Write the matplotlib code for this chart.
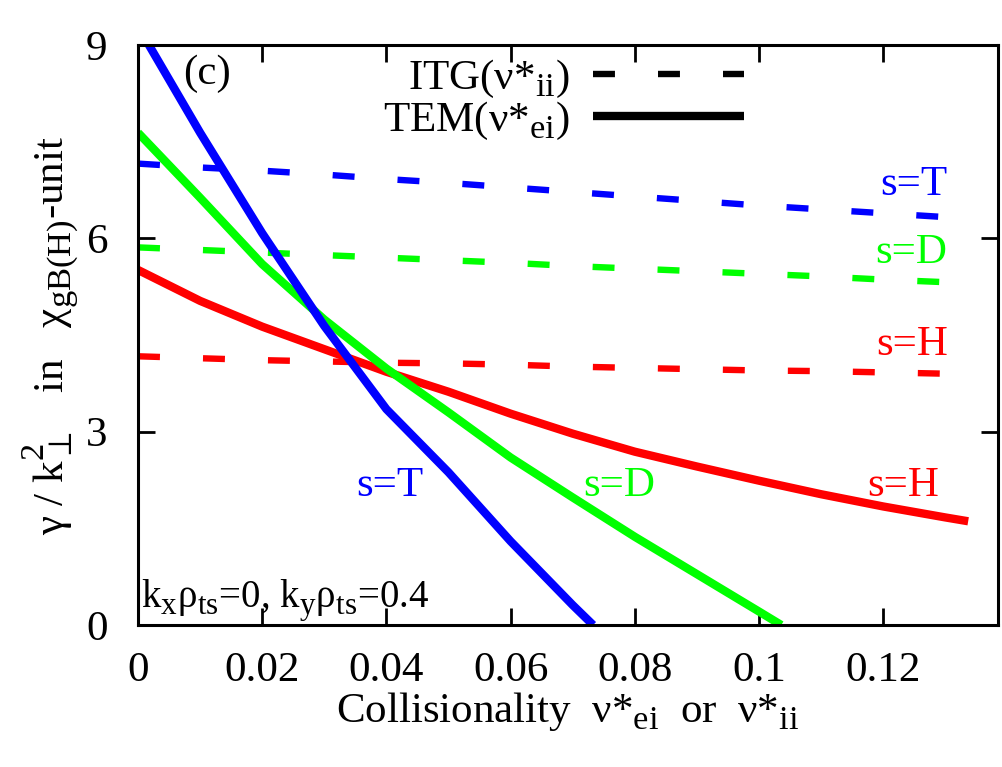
import numpy as np
import matplotlib
matplotlib.use("Agg")
import matplotlib.pyplot as plt
from matplotlib.lines import Line2D
import matplotlib._mathtext as _mt

plt.rcParams['font.family'] = ['Liberation Serif', 'DejaVu Serif']
plt.rcParams['mathtext.fontset'] = 'custom'
plt.rcParams['mathtext.rm'] = 'Liberation Serif'
plt.rcParams['mathtext.it'] = 'Liberation Serif'
plt.rcParams['mathtext.default'] = 'regular'
plt.rcParams['lines.scale_dashes'] = False
# larger, lower subscripts as in the reference
_mt.SHRINK_FACTOR = 0.8
_mt.FontConstantsBase.sub1 = 0.4
_mt.FontConstantsBase.sub2 = 0.5

# ---- data ----
nu_tem_T = [0.0, 0.01, 0.02, 0.03, 0.04, 0.05, 0.06, 0.07, 0.0733]
tem_T = [9.29, 7.64, 6.08, 4.64, 3.35, 2.37, 1.30, 0.31, 0.0]

nu_tem_D = [0.0, 0.01, 0.02, 0.03, 0.04, 0.05, 0.06, 0.07, 0.08, 0.09, 0.10, 0.1036]
tem_D = [7.64, 6.63, 5.60, 4.74, 3.98, 3.30, 2.60, 1.98, 1.37, 0.79, 0.21, 0.0]

nu_tem_H = [0.0, 0.01, 0.02, 0.03, 0.04, 0.05, 0.06, 0.07, 0.08, 0.09, 0.10, 0.11, 0.12, 0.13, 0.1337]
tem_H = [5.51, 5.03, 4.63, 4.28, 3.93, 3.62, 3.28, 2.97, 2.69, 2.46, 2.24, 2.03, 1.84, 1.67, 1.61]

nu_itg = [0.0, 0.01, 0.02, 0.03, 0.04, 0.05, 0.06, 0.07, 0.08, 0.09, 0.10, 0.11, 0.12, 0.13, 0.1337]
itg_T = [7.16, 7.10, 7.05, 6.99, 6.92, 6.86, 6.79, 6.72, 6.65, 6.58, 6.51, 6.45, 6.39, 6.33, 6.31]
itg_D = [5.86, 5.82, 5.78, 5.74, 5.70, 5.66, 5.62, 5.57, 5.53, 5.49, 5.45, 5.41, 5.36, 5.32, 5.31]
itg_H = [4.17, 4.14, 4.11, 4.09, 4.07, 4.06, 4.04, 4.01, 3.99, 3.97, 3.95, 3.94, 3.92, 3.90, 3.89]

xticks = [0, 0.02, 0.04, 0.06, 0.08, 0.1, 0.12]
xticklabels = ['0', '0.02', '0.04', '0.06', '0.08', '0.1', '0.12']
yticks = [0, 3, 6, 9]

BLUE, GREEN, RED = '#0000ff', '#00ff00', '#ff0000'
DASH = (15.8, 31.0)

fig = plt.figure(figsize=(10.03, 7.67), dpi=100)
ax = fig.add_axes([0.1376, 0.1851, 0.8574, 0.7562])

lw_s, lw_d = 6.0, 4.6
ax.plot(nu_itg, itg_T, color=BLUE, lw=lw_d, dashes=DASH, dash_capstyle='butt')
ax.plot(nu_itg, itg_D, color=GREEN, lw=lw_d, dashes=DASH, dash_capstyle='butt')
ax.plot(nu_itg, itg_H, color=RED, lw=lw_d, dashes=DASH, dash_capstyle='butt')
ax.plot(nu_tem_H, tem_H, color=RED, lw=lw_s, solid_capstyle='butt')
ax.plot(nu_tem_D, tem_D, color=GREEN, lw=lw_s, solid_capstyle='butt')
ax.plot(nu_tem_T, tem_T, color=BLUE, lw=lw_s, solid_capstyle='butt')

ax.set_xlim(0, 0.1385)
ax.set_ylim(0, 9)
ax.set_xticks(xticks)
ax.set_xticklabels(xticklabels)
ax.set_yticks(yticks)
ax.tick_params(direction='in', length=12, width=2, labelsize=31, top=True, right=True)
ax.tick_params(axis='x', pad=19)
ax.tick_params(axis='y', pad=22)
for s in ax.spines.values():
    s.set_linewidth(2.2)

ax.set_xlabel('Collisionality  ν*$_{ei}$  or  ν*$_{ii}$', fontsize=31, labelpad=0)
ax.set_ylabel('γ / k$_{\\perp}^{2}$   in   χ$_{gB(H)}$-unit', fontsize=31, labelpad=4)

fs = 31
ax.text(0.0072, 8.39, '(c)', fontsize=fs, ha='left', va='baseline')
ax.text(0.1304, 6.68, 's=T', color=BLUE, fontsize=fs, ha='right', va='baseline')
ax.text(0.1304, 5.62, 's=D', color=GREEN, fontsize=fs, ha='right', va='baseline')
ax.text(0.1304, 4.19, 's=H', color=RED, fontsize=fs, ha='right', va='baseline')
ax.text(0.0405, 2.0, 's=T', color=BLUE, fontsize=fs, ha='center', va='baseline')
ax.text(0.0775, 2.0, 's=D', color=GREEN, fontsize=fs, ha='center', va='baseline')
ax.text(0.1232, 2.0, 's=H', color=RED, fontsize=fs, ha='center', va='baseline')
ax.text(0.0005, 0.28, 'k$_x$ρ$_{ts}$=0, k$_y$ρ$_{ts}$=0.4', fontsize=28, ha='left', va='baseline')

handles = [Line2D([], [], color='black', lw=lw_d, dashes=DASH, dash_capstyle='butt'),
           Line2D([], [], color='black', lw=lw_s, solid_capstyle='butt')]
labels = ['ITG(ν*$_{ii}$)', 'TEM(ν*$_{ei}$)']
ax.legend(handles, labels, loc='upper left', bbox_to_anchor=(0.25, 1.03), frameon=False,
          markerfirst=False, fontsize=31, handlelength=3.5, handletextpad=0.55,
          labelspacing=0.0, borderpad=0.2)

fig.savefig('out.png', dpi=100)
